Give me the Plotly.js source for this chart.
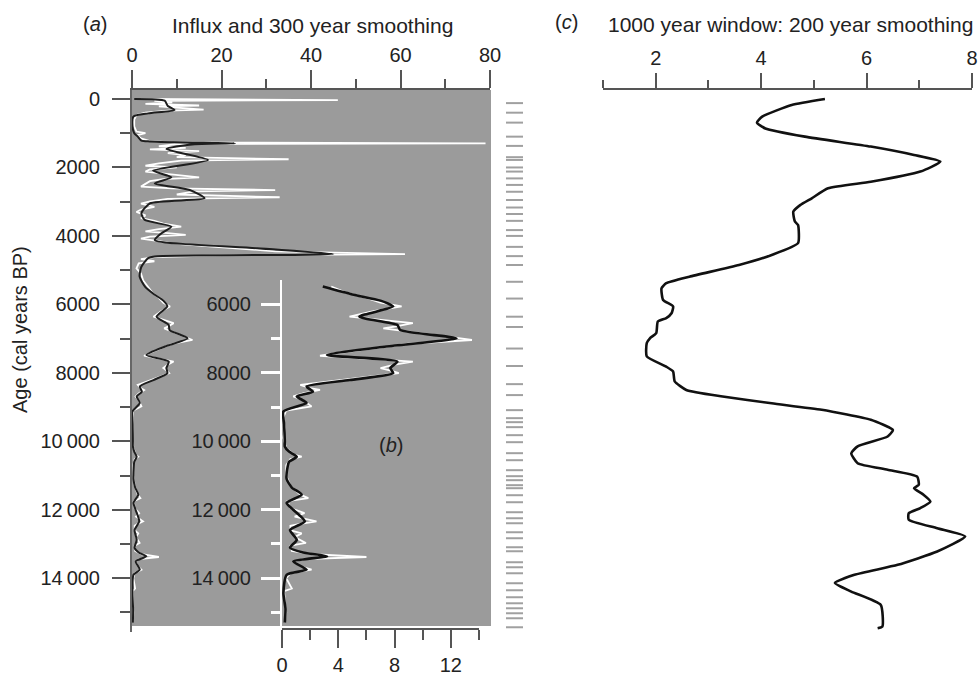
<!DOCTYPE html>
<html>
<head>
<meta charset="utf-8">
<script src="https://cdn.plot.ly/plotly-3.0.1.min.js"></script>
<style>html,body{margin:0;padding:0;background:#fff;}#chart{width:979px;height:677px;}</style>
</head>
<body>
<div id="chart"></div>
<script>
// ---------- data ----------
// (a)/(b) 300-year smoothed influx
const ageSmooth = [0,50,205,320,420,515,800,1000,1100,1217,1240,1280,1295,1320,1460,1780,2093,2287,2463,2660,2900,3047,3340,3530,3730,3920,4120,4360,4530,4600,4650,4900,5190,5480,5710,5890,6060,6360,6600,6750,6990,7230,7480,7670,7860,8010,8210,8400,8550,8690,8880,9130,9500,10000,10150,10300,10450,10600,10740,11100,11350,11560,11800,12000,12340,12590,12880,13110,13250,13360,13510,13750,13900,14430,14900,15300];
const influxSmooth = [0.5,7.3,8,9.5,3.6,0.3,0.1,0.5,1.3,2.1,4,16,23,14,7.7,17,4.7,8.8,5.1,12.9,16.2,4,2.1,2.8,8.8,6.6,5.1,28,45,5,3.6,2.1,1.7,2.9,5.0,7.0,7.9,5.5,8.2,8.4,12.4,7.4,3.2,8.2,7.7,7.9,4.8,1.75,2.2,1.05,1.75,0.1,0.15,0.2,0.2,0.5,1.05,0.5,0.4,0.33,0.7,1.4,0.33,0.8,1.62,0.57,1.05,0.57,1.5,3.2,0.8,1.75,0.33,0.1,0.25,0.2];
// raw influx samples
const ageRaw = [0,30,55,100,140,190,215,260,310,340,400,470,600,800,950,1000,1060,1150,1230,1270,1295,1320,1380,1430,1470,1520,1580,1640,1700,1760,1800,1880,1950,2000,2060,2120,2190,2240,2290,2340,2400,2480,2560,2610,2660,2700,2790,2870,2920,2990,3060,3150,3230,3300,3400,3480,3560,3640,3730,3800,3870,3920,3970,4020,4080,4150,4230,4310,4380,4450,4530,4570,4620,4680,4740,4800,4950,5100,5300,5480,5650,5810,5950,6060,6200,6360,6450,6550,6650,6700,6850,6950,7040,7150,7300,7420,7500,7580,7670,7760,7860,7940,8010,8100,8250,8350,8450,8500,8600,8690,8800,8880,8980,9100,9300,9600,9900,10200,10400,10450,10520,10700,11000,11300,11560,11660,11750,11950,12100,12200,12340,12420,12470,12600,12690,12800,12970,13050,13200,13300,13380,13440,13520,13650,13750,13850,14000,14300,14380,14700,15000,15300];
const influxRaw = [2,46,5,9,3,15,6,10,16,8,3,1,0.5,0.5,1,3,1,2,4,9,79,10,6,12,4,15,8,12,10,35,11,6,3,10,4,3,8,12,15,7,4,3,2,9,32,14,10,33,8,4,2,5,2,1,3,2,5,7,11,6,3,8,12,4,2,6,10,18,25,32,61,20,5,2,5,1.5,1,2,2.5,3.5,4.5,6,7,8.5,6.5,4.8,7,9.3,8,7.2,10,12,13.5,9,6,4,2.7,6,9.3,8,7,7.8,8.3,6.5,3.5,1.3,2,2.7,1.5,0.8,1.5,1.8,2.1,0.3,0.1,0.2,0.1,0.3,0.9,1.4,0.6,0.3,0.3,0.6,1.3,1.87,0.4,0.6,1.6,0.9,2.45,1.2,0.6,0.6,1.4,0.9,1.7,0.6,0.7,2.2,6,1.5,0.8,1.3,2.1,0.6,0.3,0.7,0.15,0.2,0.3,0.2];
// (c) 1000 year window, 200 year smoothing
const ageC = [0,175,516,690,860,1100,1390,1635,1830,2120,2420,2610,2900,3100,3290,3580,3680,4210,4555,4850,5190,5380,5530,5870,6060,6260,6400,6500,6840,6990,7130,7520,7820,7960,8250,8500,8690,8890,9080,9370,9670,9860,10150,10350,10640,10830,11030,11270,11370,11560,11760,11950,12100,12290,12540,12780,13220,13610,13900,14140,14390,14780,15410,15460];
const valC = [5.21,4.58,4.02,3.92,4.08,4.83,6.08,6.9,7.4,7.02,6.08,5.27,4.96,4.74,4.61,4.64,4.7,4.7,4.2,3.58,2.64,2.2,2.11,2.14,2.33,2.3,2.2,2.04,2.01,1.89,1.83,1.83,2.2,2.33,2.36,2.58,3.27,4.2,5.15,6.08,6.5,6.4,5.83,5.71,5.83,6.4,6.96,6.99,6.9,7.08,7.21,7.02,6.8,6.8,7.34,7.87,7.34,6.59,5.77,5.4,5.71,6.27,6.3,6.21];
// sample ages (rug at right)
const rugAges = [120,400,690,1100,1370,1700,1780,2000,2120,2320,2510,2710,2950,3170,3360,3560,3830,4000,4320,4590,4850,5340,5830,6360,6660,7290,7800,8330,8650,9090,9324,9441,9587,9821,10026,10347,10552,10844,11019,11136,11282,11370,11575,11780,12072,12248,12394,12657,12832,13095,13212,13533,13680,13855,14147,14352,14556,14732,14878,15024,15170,15433];
// tick labels
const ageTicks = [0,2000,4000,6000,8000,10000,12000,14000];
const ageTickText = ['0','2000','4000','6000','8000','10\u2009000','12\u2009000','14\u2009000'];
const ageMinor = [1000,3000,5000,7000,9000,11000,13000,15000];
const insetTicks = [6000,8000,10000,12000,14000];
const insetTickText = ['6000','8000','10\u2009000','12\u2009000','14\u2009000'];
const insetMinor = [7000,9000,11000,13000,15000];

// ---------- layout helpers ----------
const W = 979, H = 677;
const fx = p => p / W;
const fy = p => 1 - p / H;
const ageAt = p => (p - 99) * 29.214;  // pixel row -> age (for axis ranges)
const FONT = 'Liberation Sans, Arial, sans-serif';
const TXT = '#222';

// inset subset
const bStart = 5450;
const bSmAge = [], bSmVal = [], bRawAge = [], bRawVal = [];
ageSmooth.forEach((a, i) => { if (a >= bStart) { bSmAge.push(a); bSmVal.push(influxSmooth[i]); } });
ageRaw.forEach((a, i) => { if (a >= bStart) { bRawAge.push(a); bRawVal.push(influxRaw[i]); } });

// rug segments
const rugX = [], rugY = [];
rugAges.forEach(a => { rugX.push(0, 1, null); rugY.push(a, a, null); });

const traces = [
  {x: influxRaw, y: ageRaw, xaxis: 'x', yaxis: 'y', mode: 'lines', line: {color: '#ffffff', width: 1.8}, hoverinfo: 'skip'},
  {x: influxSmooth, y: ageSmooth, xaxis: 'x', yaxis: 'y', mode: 'lines', line: {color: '#1e1e1e', width: 2, shape: 'spline', smoothing: 0.6}, hoverinfo: 'skip'},
  {x: bRawVal, y: bRawAge, xaxis: 'x2', yaxis: 'y2', mode: 'lines', line: {color: '#ffffff', width: 1.8}, hoverinfo: 'skip'},
  {x: bSmVal, y: bSmAge, xaxis: 'x2', yaxis: 'y2', mode: 'lines', line: {color: '#111', width: 2.6, shape: 'spline', smoothing: 0.6}, hoverinfo: 'skip'},
  {x: valC, y: ageC, xaxis: 'x3', yaxis: 'y', mode: 'lines', line: {color: '#111', width: 2.6, shape: 'spline', smoothing: 0.5}, hoverinfo: 'skip'},
  {x: rugX, y: rugY, xaxis: 'x4', yaxis: 'y', mode: 'lines', line: {color: '#a0a0a0', width: 2}, hoverinfo: 'skip', connectgaps: false}
];

const tickFont = {family: FONT, size: 20, color: TXT};
const ann = (text, x, y, size, extra) => Object.assign({
  text: text, xref: 'paper', yref: 'paper', x: fx(x), y: fy(y), xanchor: 'center', yanchor: 'middle',
  showarrow: false, font: {family: FONT, size: size, color: TXT}
}, extra || {});

const layout = {
  width: W, height: H,
  margin: {l: 0, r: 0, t: 0, b: 0},
  paper_bgcolor: '#fff', plot_bgcolor: 'rgba(0,0,0,0)',
  showlegend: false,
  font: {family: FONT, color: TXT},
  xaxis: {
    domain: [fx(132), fx(490)], range: [0, 80], anchor: 'y', side: 'top',
    showgrid: false, zeroline: false, showline: true, linecolor: '#555', linewidth: 2,
    ticks: 'outside', tickvals: [0, 20, 40, 60, 80], ticklen: 18, tickwidth: 2, tickcolor: '#555',
    minor: {tickvals: [10, 30, 50, 70], ticks: 'outside', ticklen: 9, tickwidth: 2, tickcolor: '#555'},
    tickfont: tickFont, ticklabeloverflow: 'allow', fixedrange: true
  },
  yaxis: {
    domain: [fy(632), fy(90)], range: [ageAt(632), ageAt(90)], anchor: 'x',
    showgrid: false, zeroline: false, showline: true, linecolor: '#666', linewidth: 2,
    ticks: 'outside', tickvals: ageTicks, ticktext: ageTickText, ticklen: 18, tickwidth: 2, tickcolor: '#555',
    minor: {tickvals: ageMinor, ticks: 'outside', ticklen: 10, tickwidth: 2, tickcolor: '#555'},
    tickfont: tickFont, ticklabelstandoff: 8, fixedrange: true
  },
  xaxis2: {
    domain: [fx(282), fx(479)], range: [0, 14], anchor: 'free', position: fy(629), side: 'bottom',
    showgrid: false, zeroline: false, showline: true, linecolor: '#555', linewidth: 2,
    ticks: 'outside', tickvals: [0, 4, 8, 12], ticklen: 18, tickwidth: 2, tickcolor: '#555',
    minor: {tickvals: [2, 6, 10, 14], ticks: 'outside', ticklen: 10, tickwidth: 2, tickcolor: '#555'},
    tickfont: tickFont, fixedrange: true
  },
  yaxis2: {
    domain: [fy(626), fy(280)], range: [ageAt(626), ageAt(280)], anchor: 'x2',
    showgrid: false, zeroline: false, showline: true, linecolor: '#ffffff', linewidth: 2,
    ticks: 'outside', tickvals: insetTicks, ticktext: insetTickText, ticklen: 19, tickwidth: 3, tickcolor: '#ffffff',
    minor: {tickvals: insetMinor, ticks: 'outside', ticklen: 9, tickwidth: 3, tickcolor: '#ffffff'},
    tickfont: tickFont, ticklabelstandoff: 6, fixedrange: true
  },
  xaxis3: {
    domain: [fx(603), fx(972)], range: [1, 8], anchor: 'y', side: 'top',
    showgrid: false, zeroline: false, showline: true, linecolor: '#555', linewidth: 2,
    ticks: 'outside', tickvals: [2, 4, 6, 8], ticklen: 15, tickwidth: 2, tickcolor: '#555',
    minor: {tickvals: [1, 3, 5, 7], ticks: 'outside', ticklen: 8, tickwidth: 2, tickcolor: '#555'},
    tickfont: tickFont, ticklabeloverflow: 'allow', fixedrange: true
  },
  xaxis4: {
    domain: [fx(506), fx(523)], range: [0, 1], anchor: 'y', visible: false, fixedrange: true
  },
  shapes: [
    {type: 'rect', xref: 'paper', yref: 'paper', x0: fx(131), x1: fx(491), y0: fy(626), y1: fy(90),
     fillcolor: '#9b9b9b', line: {width: 0}, layer: 'below'}
  ],
  annotations: [
    ann('(<i>a</i>)', 95, 24, 20),
    ann('Influx and 300 year smoothing', 312, 25, 21),
    ann('(<i>c</i>)', 566, 22, 20),
    ann('1000 year window: 200 year smoothing', 790, 24, 21),
    ann('(<i>b</i>)', 391, 445, 20),
    ann('Age (cal years BP)', 20, 330, 20, {textangle: -90})
  ]
};

Plotly.newPlot('chart', traces, layout, {displayModeBar: false, staticPlot: true});
</script>
</body>
</html>
